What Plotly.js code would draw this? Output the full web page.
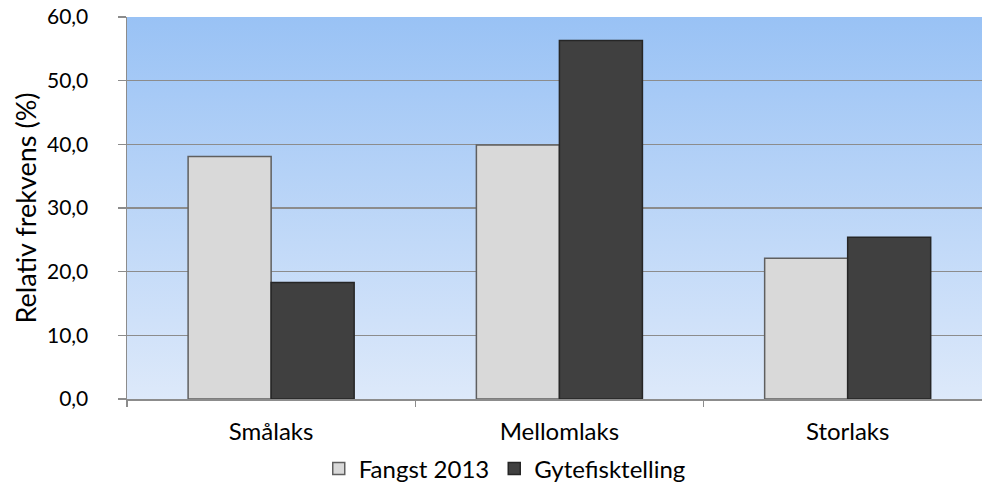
<!DOCTYPE html>
<html>
<head>
<meta charset="utf-8">
<script src="https://cdn.plot.ly/plotly-3.0.1.min.js"></script>
<style>
  html, body { margin: 0; padding: 0; background: #ffffff; }
  #chart { width: 982px; height: 486px; }
</style>
</head>
<body>
<div id="chart"></div>
<script>
// Size classes of salmon
const categories = ['Smålaks', 'Mellomlaks', 'Storlaks'];
// Relative frequency (%) per size class
const fangst2013 = [38.1, 39.9, 22.1];
const gytefisktelling = [18.3, 56.3, 25.4];
const seriesNames = ['Fangst 2013', 'Gytefisktelling'];
const yTickValues = [0, 10, 20, 30, 40, 50, 60];
const yTickLabels = ['0,0', '10,0', '20,0', '30,0', '40,0', '50,0', '60,0'];

const FONT = 'Lato, "Open Sans", sans-serif';

// Vertical blue gradient used as the plot background
const gradientSvg =
  '<svg xmlns="http://www.w3.org/2000/svg" width="100" height="100" preserveAspectRatio="none">' +
  '<defs><linearGradient id="g" x1="0" y1="0" x2="0" y2="1">' +
  '<stop offset="0" stop-color="#99c2f5"/>' +
  '<stop offset="1" stop-color="#dde9fa"/>' +
  '</linearGradient></defs>' +
  '<rect width="100" height="100" fill="url(#g)"/></svg>';
const gradientUri = 'data:image/svg+xml;base64,' + btoa(gradientSvg);

const traces = [
  {
    type: 'bar',
    name: seriesNames[0],
    x: categories,
    y: fangst2013,
    marker: { color: '#d9d9d9', line: { color: '#5f5f5f', width: 1.5 } }
  },
  {
    type: 'bar',
    name: seriesNames[1],
    x: categories,
    y: gytefisktelling,
    marker: { color: '#404040', line: { color: '#262626', width: 1.5 } }
  }
];

const layout = {
  width: 982,
  height: 486,
  margin: { l: 127, r: 0, t: 17, b: 87 },
  paper_bgcolor: '#ffffff',
  plot_bgcolor: 'rgba(0,0,0,0)',
  font: { family: FONT, size: 24, color: '#000000' },
  barmode: 'group',
  bargap: 0.424,
  bargroupgap: 0,
  showlegend: true,
  legend: {
    orientation: 'h',
    x: 0.514, xref: 'container', xanchor: 'center',
    y: 0.035, yref: 'container', yanchor: 'middle',
    font: { family: FONT, size: 24, color: '#000000' },
    itemwidth: 30,
    tracegroupgap: 0
  },
  images: [{
    source: gradientUri,
    xref: 'paper', yref: 'paper',
    x: 0, y: 1, sizex: 1, sizey: 1,
    xanchor: 'left', yanchor: 'top',
    sizing: 'stretch',
    layer: 'below'
  }],
  xaxis: {
    type: 'category',
    range: [-0.5, 2.466],
    automargin: false,
    showline: true,
    linecolor: '#8c8c8c',
    linewidth: 1.5,
    ticks: 'outside',
    tickson: 'boundaries',
    ticklen: 6,
    tickcolor: '#8c8c8c',
    tickwidth: 1.5,
    ticklabelstandoff: 11,
    showgrid: false,
    tickfont: { family: FONT, size: 24, color: '#000000' },
    fixedrange: true
  },
  yaxis: {
    range: [0, 60],
    automargin: false,
    tickvals: yTickValues,
    ticktext: yTickLabels,
    showline: true,
    linecolor: '#8c8c8c',
    linewidth: 1.5,
    ticks: 'outside',
    ticklen: 8,
    tickcolor: '#8c8c8c',
    tickwidth: 1.5,
    ticklabelstandoff: 25,
    showgrid: true,
    gridcolor: '#8c8c8c',
    gridwidth: 1.5,
    zeroline: false,
    tickfont: { family: FONT, size: 21, color: '#000000' },
    title: { text: 'Relativ frekvens (%)', font: { family: FONT, size: 27, color: '#000000' }, standoff: 2 },
    fixedrange: true
  }
};

Plotly.newPlot('chart', traces, layout, { displayModeBar: false, staticPlot: true });
</script>
</body>
</html>
